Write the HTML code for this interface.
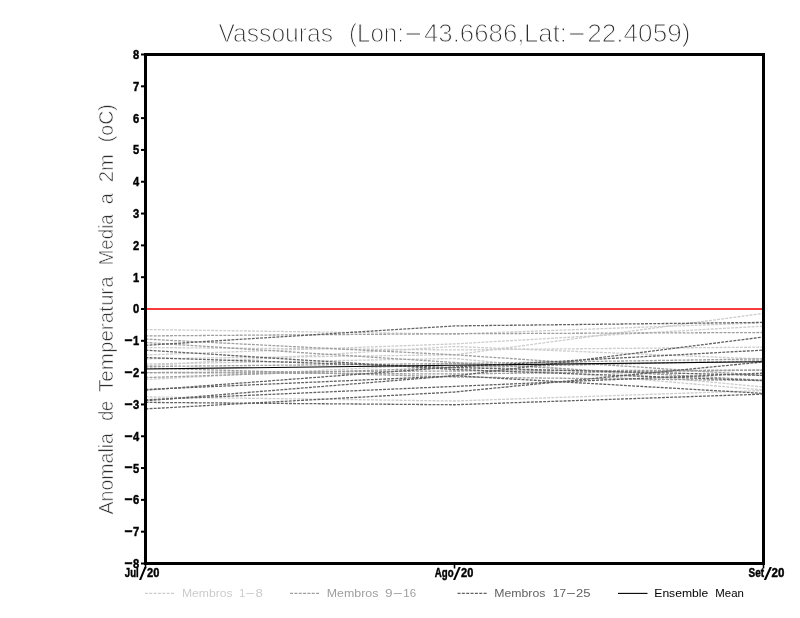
<!DOCTYPE html>
<html lang="pt"><head><meta charset="utf-8"><title>Vassouras</title>
<style>
html,body{margin:0;padding:0;background:#fff;}
svg{display:block;will-change:transform;}
text{font-family:"Liberation Sans",sans-serif;}
.thin{fill:#2e2e2e;stroke:#fff;stroke-width:1.0px;paint-order:fill stroke;}
.thin2{fill:#2e2e2e;stroke:#fff;stroke-width:0.6px;paint-order:fill stroke;}
.b{font-weight:bold;fill:#000;stroke:#000;stroke-width:0.45px;}
.sl{font-weight:normal;fill:#000;stroke:none;}
.m{fill:none;stroke-width:1.3;stroke-dasharray:2.9 1.2;}
</style></head><body>
<svg width="800" height="618" viewBox="0 0 800 618">
<rect x="0" y="0" width="800" height="618" fill="#fff"/>
<text class="thin" font-size="25.4"><tspan x="218.50" y="41.80" textLength="114.50" lengthAdjust="spacingAndGlyphs">Vassouras</tspan> <tspan x="349.00" y="41.80" textLength="55.00" lengthAdjust="spacingAndGlyphs">(Lon:</tspan><tspan x="402.60" y="40.80" textLength="21.60" lengthAdjust="spacingAndGlyphs">-</tspan><tspan x="423.90" y="41.80" textLength="100.60" lengthAdjust="spacingAndGlyphs">43.6686,</tspan><tspan x="524.00" y="41.80" textLength="43.00" lengthAdjust="spacingAndGlyphs">Lat:</tspan><tspan x="565.90" y="40.80" textLength="21.60" lengthAdjust="spacingAndGlyphs">-</tspan><tspan x="587.20" y="41.80" textLength="103.30" lengthAdjust="spacingAndGlyphs">22.4059)</tspan></text>
<g transform="translate(113.2,513.5) rotate(-90)">
<text class="thin2" font-size="21.0"><tspan x="-1.00" y="0.00" textLength="81.50" lengthAdjust="spacingAndGlyphs">Anomalia</tspan> <tspan x="92.65" y="0.00" textLength="19.85" lengthAdjust="spacingAndGlyphs">de</tspan> <tspan x="121.50" y="0.00" textLength="115.70" lengthAdjust="spacingAndGlyphs">Temperatura</tspan> <tspan x="248.30" y="0.00" textLength="50.90" lengthAdjust="spacingAndGlyphs">Media</tspan> <tspan x="309.20" y="0.00" textLength="11.00" lengthAdjust="spacingAndGlyphs">a</tspan> <tspan x="331.30" y="0.00" textLength="28.00" lengthAdjust="spacingAndGlyphs">2m</tspan> <tspan x="371.20" y="0.00" textLength="38.20" lengthAdjust="spacingAndGlyphs">(oC)</tspan></text>
</g>
<line x1="145.5" y1="309.00" x2="763.5" y2="309.00" stroke="#fa3c3c" stroke-width="2"/>
<g class="m" stroke="#cccccc">
<polyline points="145.5,329.50 454.5,334.00 763.5,322.80"/>
<polyline points="145.5,347.50 454.5,349.90 763.5,347.10"/>
<polyline points="145.5,355.00 454.5,343.90 763.5,326.10"/>
<polyline points="145.5,358.80 454.5,354.80 763.5,313.40"/>
<polyline points="145.5,364.00 454.5,358.50 763.5,387.00"/>
<polyline points="145.5,365.70 454.5,346.50 763.5,359.00"/>
<polyline points="145.5,379.50 454.5,363.50 763.5,390.00"/>
<polyline points="145.5,396.90 454.5,401.00 763.5,390.50"/>
</g>
<g class="m" stroke="#9e9e9e">
<polyline points="145.5,335.90 454.5,333.75 763.5,332.50"/>
<polyline points="145.5,339.10 454.5,354.80 763.5,375.40"/>
<polyline points="145.5,342.50 454.5,362.50 763.5,380.25"/>
<polyline points="145.5,366.50 454.5,363.50 763.5,358.90"/>
<polyline points="145.5,372.60 454.5,371.00 763.5,370.10"/>
<polyline points="145.5,372.60 454.5,374.00 763.5,370.10"/>
<polyline points="145.5,377.60 454.5,367.60 763.5,360.75"/>
<polyline points="145.5,368.00 454.5,377.00 763.5,380.60"/>
</g>
<g class="m" stroke="#626262">
<polyline points="145.5,345.30 454.5,325.90 763.5,322.40"/>
<polyline points="145.5,350.10 454.5,369.50 763.5,380.60"/>
<polyline points="145.5,357.60 454.5,367.60 763.5,375.40"/>
<polyline points="145.5,390.20 454.5,367.00 763.5,350.10"/>
<polyline points="145.5,389.50 454.5,376.00 763.5,337.00"/>
<polyline points="145.5,399.80 454.5,386.40 763.5,373.10"/>
<polyline points="145.5,402.40 454.5,404.75 763.5,394.10"/>
<polyline points="145.5,400.80 454.5,375.70 763.5,393.40"/>
<polyline points="145.5,408.90 454.5,392.00 763.5,361.90"/>
</g>
<polyline points="145.5,369.00 454.5,365.30 763.5,361.80" fill="none" stroke="#000" stroke-width="1.15"/>
<rect x="145.5" y="54.5" width="618.0" height="509.0" fill="none" stroke="#000" stroke-width="3"/>
<line x1="141" y1="54.50" x2="145" y2="54.50" stroke="#000" stroke-width="2"/>
<text class="b" font-size="12.9"><tspan x="132.90" y="58.95" textLength="6.20" lengthAdjust="spacingAndGlyphs">8</tspan></text>
<line x1="141" y1="86.31" x2="145" y2="86.31" stroke="#000" stroke-width="2"/>
<text class="b" font-size="12.9"><tspan x="132.90" y="90.76" textLength="6.20" lengthAdjust="spacingAndGlyphs">7</tspan></text>
<line x1="141" y1="118.12" x2="145" y2="118.12" stroke="#000" stroke-width="2"/>
<text class="b" font-size="12.9"><tspan x="132.90" y="122.58" textLength="6.20" lengthAdjust="spacingAndGlyphs">6</tspan></text>
<line x1="141" y1="149.94" x2="145" y2="149.94" stroke="#000" stroke-width="2"/>
<text class="b" font-size="12.9"><tspan x="132.90" y="154.39" textLength="6.20" lengthAdjust="spacingAndGlyphs">5</tspan></text>
<line x1="141" y1="181.75" x2="145" y2="181.75" stroke="#000" stroke-width="2"/>
<text class="b" font-size="12.9"><tspan x="132.90" y="186.20" textLength="6.20" lengthAdjust="spacingAndGlyphs">4</tspan></text>
<line x1="141" y1="213.56" x2="145" y2="213.56" stroke="#000" stroke-width="2"/>
<text class="b" font-size="12.9"><tspan x="132.90" y="218.01" textLength="6.20" lengthAdjust="spacingAndGlyphs">3</tspan></text>
<line x1="141" y1="245.38" x2="145" y2="245.38" stroke="#000" stroke-width="2"/>
<text class="b" font-size="12.9"><tspan x="132.90" y="249.82" textLength="6.20" lengthAdjust="spacingAndGlyphs">2</tspan></text>
<line x1="141" y1="277.19" x2="145" y2="277.19" stroke="#000" stroke-width="2"/>
<text class="b" font-size="12.9"><tspan x="132.90" y="281.64" textLength="6.20" lengthAdjust="spacingAndGlyphs">1</tspan></text>
<line x1="141" y1="309.00" x2="145" y2="309.00" stroke="#000" stroke-width="2"/>
<text class="b" font-size="12.9"><tspan x="132.90" y="313.45" textLength="6.20" lengthAdjust="spacingAndGlyphs">0</tspan></text>
<line x1="141" y1="340.81" x2="145" y2="340.81" stroke="#000" stroke-width="2"/>
<text class="b" font-size="12.9"><tspan x="124.20" y="344.21" font-size="12.5" textLength="8.60" lengthAdjust="spacingAndGlyphs">-</tspan><tspan x="132.90" y="345.26" textLength="6.20" lengthAdjust="spacingAndGlyphs">1</tspan></text>
<line x1="141" y1="372.62" x2="145" y2="372.62" stroke="#000" stroke-width="2"/>
<text class="b" font-size="12.9"><tspan x="124.20" y="376.02" font-size="12.5" textLength="8.60" lengthAdjust="spacingAndGlyphs">-</tspan><tspan x="132.90" y="377.07" textLength="6.20" lengthAdjust="spacingAndGlyphs">2</tspan></text>
<line x1="141" y1="404.44" x2="145" y2="404.44" stroke="#000" stroke-width="2"/>
<text class="b" font-size="12.9"><tspan x="124.20" y="407.84" font-size="12.5" textLength="8.60" lengthAdjust="spacingAndGlyphs">-</tspan><tspan x="132.90" y="408.89" textLength="6.20" lengthAdjust="spacingAndGlyphs">3</tspan></text>
<line x1="141" y1="436.25" x2="145" y2="436.25" stroke="#000" stroke-width="2"/>
<text class="b" font-size="12.9"><tspan x="124.20" y="439.65" font-size="12.5" textLength="8.60" lengthAdjust="spacingAndGlyphs">-</tspan><tspan x="132.90" y="440.70" textLength="6.20" lengthAdjust="spacingAndGlyphs">4</tspan></text>
<line x1="141" y1="468.06" x2="145" y2="468.06" stroke="#000" stroke-width="2"/>
<text class="b" font-size="12.9"><tspan x="124.20" y="471.46" font-size="12.5" textLength="8.60" lengthAdjust="spacingAndGlyphs">-</tspan><tspan x="132.90" y="472.51" textLength="6.20" lengthAdjust="spacingAndGlyphs">5</tspan></text>
<line x1="141" y1="499.88" x2="145" y2="499.88" stroke="#000" stroke-width="2"/>
<text class="b" font-size="12.9"><tspan x="124.20" y="503.27" font-size="12.5" textLength="8.60" lengthAdjust="spacingAndGlyphs">-</tspan><tspan x="132.90" y="504.32" textLength="6.20" lengthAdjust="spacingAndGlyphs">6</tspan></text>
<line x1="141" y1="531.69" x2="145" y2="531.69" stroke="#000" stroke-width="2"/>
<text class="b" font-size="12.9"><tspan x="124.20" y="535.09" font-size="12.5" textLength="8.60" lengthAdjust="spacingAndGlyphs">-</tspan><tspan x="132.90" y="536.14" textLength="6.20" lengthAdjust="spacingAndGlyphs">7</tspan></text>
<line x1="141" y1="563.50" x2="145" y2="563.50" stroke="#000" stroke-width="2"/>
<text class="b" font-size="12.9"><tspan x="124.20" y="566.90" font-size="12.5" textLength="8.60" lengthAdjust="spacingAndGlyphs">-</tspan><tspan x="132.90" y="567.95" textLength="6.20" lengthAdjust="spacingAndGlyphs">8</tspan></text>
<line x1="145.5" y1="563.5" x2="145.5" y2="568.5" stroke="#000" stroke-width="1.6"/>
<line x1="454.5" y1="563.5" x2="454.5" y2="568.5" stroke="#000" stroke-width="1.6"/>
<line x1="763.5" y1="563.5" x2="763.5" y2="568.5" stroke="#000" stroke-width="1.6"/>
<text class="b" font-size="12.8"><tspan x="124.80" y="577.40" textLength="13.90" lengthAdjust="spacingAndGlyphs">Jul</tspan><tspan x="139.10" y="580.20" class="sl" font-size="17.7" textLength="7.50" lengthAdjust="spacingAndGlyphs">/</tspan><tspan x="147.00" y="577.40" textLength="12.30" lengthAdjust="spacingAndGlyphs">20</tspan></text>
<text class="b" font-size="12.8"><tspan x="434.80" y="577.40" textLength="18.80" lengthAdjust="spacingAndGlyphs">Ago</tspan><tspan x="453.10" y="580.20" class="sl" font-size="17.7" textLength="7.80" lengthAdjust="spacingAndGlyphs">/</tspan><tspan x="461.10" y="577.40" textLength="12.20" lengthAdjust="spacingAndGlyphs">20</tspan></text>
<text class="b" font-size="12.8"><tspan x="748.50" y="577.40" textLength="15.50" lengthAdjust="spacingAndGlyphs">Set</tspan><tspan x="763.70" y="580.20" class="sl" font-size="17.7" textLength="8.20" lengthAdjust="spacingAndGlyphs">/</tspan><tspan x="771.50" y="577.40" textLength="12.80" lengthAdjust="spacingAndGlyphs">20</tspan></text>
<line x1="144.9" y1="593.4" x2="174.5" y2="593.4" stroke="#cccccc" stroke-width="1.1" stroke-dasharray="3 1.35"/>
<text font-size="10.4" fill="#cccccc"><tspan x="181.90" y="596.60" textLength="50.70" lengthAdjust="spacingAndGlyphs">Membros</tspan> <tspan x="239.30" y="596.60" textLength="6.00" lengthAdjust="spacingAndGlyphs">1</tspan><tspan x="244.80" y="595.90" textLength="10.70" lengthAdjust="spacingAndGlyphs">-</tspan><tspan x="255.60" y="596.60" textLength="7.40" lengthAdjust="spacingAndGlyphs">8</tspan></text>
<line x1="290.0" y1="593.4" x2="320.0" y2="593.4" stroke="#9e9e9e" stroke-width="1.1" stroke-dasharray="3 1.35"/>
<text font-size="10.4" fill="#9e9e9e"><tspan x="326.80" y="596.60" textLength="51.65" lengthAdjust="spacingAndGlyphs">Membros</tspan> <tspan x="384.90" y="596.60" textLength="7.55" lengthAdjust="spacingAndGlyphs">9</tspan><tspan x="392.20" y="595.90" textLength="10.90" lengthAdjust="spacingAndGlyphs">-</tspan><tspan x="403.30" y="596.60" textLength="12.80" lengthAdjust="spacingAndGlyphs">16</tspan></text>
<line x1="457.5" y1="593.4" x2="487.0" y2="593.4" stroke="#626262" stroke-width="1.1" stroke-dasharray="3 1.35"/>
<text font-size="10.4" fill="#626262"><tspan x="494.30" y="596.60" textLength="51.10" lengthAdjust="spacingAndGlyphs">Membros</tspan> <tspan x="552.80" y="596.60" textLength="13.20" lengthAdjust="spacingAndGlyphs">17</tspan><tspan x="565.50" y="595.90" textLength="10.90" lengthAdjust="spacingAndGlyphs">-</tspan><tspan x="575.90" y="596.60" textLength="14.50" lengthAdjust="spacingAndGlyphs">25</tspan></text>
<line x1="618.0" y1="593.4" x2="647.5" y2="593.4" stroke="#000" stroke-width="1.1"/>
<text font-size="10.4" fill="#000"><tspan x="654.30" y="596.60" textLength="53.90" lengthAdjust="spacingAndGlyphs">Ensemble</tspan> <tspan x="715.30" y="596.60" textLength="28.60" lengthAdjust="spacingAndGlyphs">Mean</tspan></text>
</svg></body></html>
